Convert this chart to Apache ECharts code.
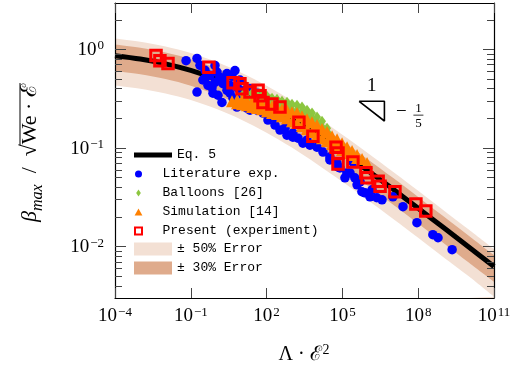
<!DOCTYPE html>
<html>
<head>
<meta charset="utf-8">
<script src="https://cdn.jsdelivr.net/npm/echarts@6/dist/echarts.min.js"></script>
<style>
  html, body { margin: 0; padding: 0; background: #fff; }
  #chart { width: 516px; height: 366px; }
</style>
</head>
<body>
<div id="chart"></div>
<script>
// ---- data ----
const xTicks = [1e-4, 1e-1, 1e2, 1e5, 1e8, 1e11];
const yTicks = [1e-2, 1e-1, 1];
const yMinorTicks = [0.004, 0.005, 0.006, 0.007, 0.008, 0.009,
  0.02, 0.03, 0.04, 0.05, 0.06, 0.07, 0.08, 0.09,
  0.2, 0.3, 0.4, 0.5, 0.6, 0.7, 0.8, 0.9, 2];

// Eq. 5 curve and error bands, sampled once per decade
const eqX = [1e-4, 1e-3, 1e-2, 1e-1, 1, 1e1, 1e2, 1e3, 1e4, 1e5, 1e6, 1e7, 1e8, 1e9, 1e10, 1e11];
const eqY = [0.863, 0.799, 0.715, 0.613, 0.5, 0.387, 0.285, 0.201, 0.137, 0.0909, 0.0593, 0.0383, 0.0245, 0.0156, 0.0099, 0.00627];
const band50Upper = [1.295, 1.199, 1.073, 0.920, 0.75, 0.581, 0.428, 0.302, 0.206, 0.136, 0.089, 0.0575, 0.0368, 0.0234, 0.0149, 0.0094];
const band30Upper = [1.122, 1.039, 0.930, 0.797, 0.65, 0.503, 0.371, 0.261, 0.178, 0.118, 0.0771, 0.0498, 0.0319, 0.0203, 0.0129, 0.0082];
const band30Lower = [0.604, 0.559, 0.501, 0.429, 0.35, 0.271, 0.200, 0.141, 0.096, 0.0636, 0.0415, 0.0268, 0.0172, 0.0109, 0.0069, 0.0044];
const band50Lower = [0.432, 0.400, 0.358, 0.307, 0.25, 0.194, 0.143, 0.101, 0.0685, 0.0455, 0.0297, 0.0192, 0.0123, 0.0078, 0.0050, 0.0031];

const literature = [
  [0.065, 0.77], [0.176, 0.81], [0.231, 0.69], [0.30, 0.49], [0.176, 0.37], [1.09, 0.59], [0.69, 0.41],
  [1.43, 0.52], [2.7, 0.57], [5.6, 0.61], [1.88, 0.45], [2.7, 0.385], [1.71, 0.29], [3.56, 0.36],
  [6.7, 0.26], [8.8, 0.49], [16.7, 0.254], [22, 0.40], [42, 0.36], [42, 0.242], [179, 0.206],
  [338, 0.152], [640, 0.135], [1100, 0.129], [1750, 0.126], [22, 0.305], [22, 0.242], [1100, 0.142],
  [2750, 0.112], [3960, 0.12], [9860, 0.102], [5200, 0.107], [1.7e4, 0.091], [3.2e4, 0.081],
  [3.2e4, 0.0757], [6.1e4, 0.0705], [8.0e4, 0.0628], [1.5e5, 0.0559], [2.0e5, 0.0559], [3.8e5, 0.0423],
  [5.9e5, 0.036], [7.8e5, 0.0351], [1.23e6, 0.032], [2.3e6, 0.0313], [3.7e6, 0.0298], [1.0e7, 0.032],
  [2.5e7, 0.0254], [8.9e7, 0.0175], [3.8e8, 0.0132], [6.1e8, 0.0123], [2.2e9, 0.0093], [6.7e4, 0.0643],
  [2.6e5, 0.0722], [0.574, 0.546], [0.906, 0.464], [3.56, 0.433], [0.365, 0.614], [11.6, 0.343],
  [72, 0.226], [113, 0.192], [215, 0.171], [533, 0.159], [1.26e5, 0.0498], [3.1e5, 0.0498],
  [5.0e5, 0.0454], [1.48e6, 0.0377], [0.365, 0.509], [0.479, 0.433], [0.755, 0.36], [1.19, 0.343],
  [2.25, 0.509], [4.27, 0.534], [7.4, 0.404], [4.7, 0.32], [13.9, 0.385], [0.906, 0.689]
];

const balloons = [
  [11.6, 0.35], [16.7, 0.36], [26.4, 0.36], [41.7, 0.351], [65.8, 0.343], [104, 0.335], [164, 0.32],
  [258, 0.313], [407, 0.298], [643, 0.291], [1014, 0.278], [1600, 0.272], [2520, 0.26], [3980, 0.242],
  [6280, 0.226], [9910, 0.206], [1.56e4, 0.187], [2.47e4, 0.159], [2.95e4, 0.138],
  [16.7, 0.313], [26.4, 0.313], [41.7, 0.305], [65.8, 0.298], [104, 0.291], [164, 0.278], [258, 0.272],
  [407, 0.26], [643, 0.254], [1014, 0.242], [1600, 0.236], [2520, 0.226], [3980, 0.21], [6280, 0.196],
  [9910, 0.179], [1.56e4, 0.163], [2.47e4, 0.142]
];

const simulation = [
  [4.27, 0.298], [6.73, 0.305], [6.73, 0.285], [10.6, 0.305], [10.6, 0.278], [16.7, 0.298], [16.7, 0.272],
  [26.4, 0.291], [26.4, 0.26], [41.7, 0.285], [41.7, 0.254], [65.8, 0.278], [65.8, 0.248],
  [104, 0.272], [104, 0.236], [164, 0.266], [164, 0.226], [258, 0.254], [258, 0.221],
  [407, 0.248], [407, 0.21], [643, 0.242], [643, 0.201], [1014, 0.231], [1014, 0.187],
  [1600, 0.226], [1600, 0.179], [2520, 0.21], [2520, 0.167], [3980, 0.196], [3980, 0.156],
  [6280, 0.183], [6280, 0.145], [9910, 0.171], [9910, 0.135], [1.56e4, 0.156], [1.56e4, 0.126],
  [2.47e4, 0.145], [2.47e4, 0.118], [3.89e4, 0.132], [3.89e4, 0.11], [6.14e4, 0.123], [6.14e4, 0.102],
  [9.68e4, 0.112], [9.68e4, 0.0955], [1.53e5, 0.102], [1.53e5, 0.089], [2.41e5, 0.0933], [2.41e5, 0.085],
  [3.8e5, 0.085], [3.8e5, 0.0793], [6.0e5, 0.0774], [9.46e5, 0.0705]
];

const present = [
  [4.2e-3, 0.87], [6.0e-3, 0.77], [1.25e-2, 0.72], [0.52, 0.66], [4.7, 0.46], [8.8, 0.45], [10.6, 0.40],
  [22, 0.37], [46, 0.385], [55, 0.34], [72, 0.29], [163, 0.28], [338, 0.26], [1900, 0.183], [6800, 0.132],
  [5.6e4, 0.102], [6.7e4, 0.089], [6.7e4, 0.069], [2.6e5, 0.072], [8.5e5, 0.056], [9.4e5, 0.050],
  [2.6e6, 0.046], [3.1e6, 0.041], [1.2e7, 0.036], [8.1e7, 0.027], [2.0e8, 0.023]
];

// slope triangle (one decade across, -1/5 decade down)
const slopeTriangle = [[4.6e5, 0.298], [4.6e6, 0.298], [4.6e6, 0.188], [4.6e5, 0.298]];

// ---- chart ----
const serif = '"Liberation Serif", "DejaVu Serif", serif';
const mono = '"Liberation Mono", "DejaVu Sans Mono", monospace';
const lightBand = '#f3e0d4';
const darkBand = '#dfab8c';

const pairs = (ys) => eqX.map((x, i) => [x, ys[i]]);

function powLabel(v) {
  const e = Math.round(Math.log10(v));
  return '{b|10}{s|' + (e < 0 ? '\u2212' + (-e) : e) + '}';
}
const labelRich = {
  b: { fontFamily: serif, fontSize: 19, color: '#000', verticalAlign: 'bottom' },
  s: { fontFamily: serif, fontSize: 13, color: '#000', verticalAlign: 'bottom', padding: [0, 0, 7, 1] }
};

const xRange = { type: 'log', logBase: 10, min: 1e-4, max: 1e11 };
const yRange = { type: 'log', logBase: 10, min: 0.00301, max: 2.96 };
const frameLine = { show: true, onZero: false, lineStyle: { color: '#000', width: 1.2 } };

function xAxisDef(position, showLabels) {
  return Object.assign({}, xRange, {
    position: position,
    z: 10,
    axisLine: frameLine,
    axisTick: { inside: true, length: 10, customValues: xTicks, lineStyle: { color: '#444', width: 1 } },
    axisLabel: showLabels
      ? { customValues: xTicks, formatter: powLabel, rich: labelRich, margin: 8 }
      : { show: false },
    minorTick: { show: false },
    splitLine: { show: false }
  });
}
function yAxisDef(position, ticks, len, showLabels, showLine) {
  return Object.assign({}, yRange, {
    position: position,
    z: 10,
    axisLine: showLine ? frameLine : { show: false },
    axisTick: { inside: true, length: len, customValues: ticks, lineStyle: { color: '#444', width: 1 } },
    axisLabel: showLabels
      ? { customValues: ticks, formatter: powLabel, rich: labelRich, margin: 11 }
      : { show: false },
    minorTick: { show: false },
    splitLine: { show: false }
  });
}

function bandSeries(name, ys, color, z) {
  return {
    name: name, type: 'line', data: pairs(ys), smooth: 0.3, symbol: 'none', silent: true, z: z,
    itemStyle: { color: color },
    lineStyle: { width: 0, color: color },
    areaStyle: { color: color, opacity: 1, origin: 'start' }
  };
}

const chart = echarts.init(document.getElementById('chart'));

const legendText = { fontFamily: mono, fontSize: 13, color: '#000', lineHeight: 19 };
const legendBase = { orient: 'vertical', left: 134, padding: 0, itemGap: 0, itemWidth: 38, z: 12,
  selectedMode: false, textStyle: legendText };

chart.setOption({
  animation: false,
  backgroundColor: '#fff',
  grid: { left: 115, right: 22, top: 3, bottom: 68, containLabel: false, outerBoundsMode: 'none' },
  xAxis: [xAxisDef('bottom', true), xAxisDef('top', false)],
  yAxis: [
    yAxisDef('left', yTicks, 11, true, true),
    yAxisDef('left', yMinorTicks, 7, false, false),
    yAxisDef('right', yTicks, 11, false, true),
    yAxisDef('right', yMinorTicks, 7, false, false)
  ],
  legend: [
    Object.assign({}, legendBase, { top: 145.5, itemHeight: 5,
      data: [{ name: 'Eq. 5', icon: 'rect' }] }),
    Object.assign({}, legendBase, { top: 164.5, itemHeight: 7,
      data: [
        { name: 'Literature exp.', icon: 'circle' },
        { name: 'Balloons [26]', icon: 'path://M3,0L6,4.5L3,9L0,4.5Z' },
        { name: 'Simulation [14]', icon: 'path://M5,0L10,9L0,9Z' },
        { name: 'Present (experiment)', icon: 'path://M0,0L10,0L10,10L0,10Z' }
      ] }),
    Object.assign({}, legendBase, { top: 239.5, itemHeight: 13,
      data: [{ name: '\u00b1 50% Error', icon: 'rect' }, { name: '\u00b1 30% Error', icon: 'rect' }] })
  ],
  series: [
    bandSeries('\u00b1 50% Error', band50Upper, lightBand, 1),
    bandSeries('\u00b1 30% Error', band30Upper, darkBand, 1.1),
    bandSeries('band30lower', band30Lower, lightBand, 1.2),
    bandSeries('band50lower', band50Lower, '#ffffff', 1.3),
    {
      name: 'Eq. 5', type: 'line', data: pairs(eqY), smooth: 0.3, symbol: 'none', z: 2,
      itemStyle: { color: '#000' }, lineStyle: { color: '#000', width: 5 }
    },
    {
      name: 'Literature exp.', type: 'scatter', data: literature, symbol: 'circle', symbolSize: 9.5, z: 3,
      itemStyle: { color: '#0000ff', opacity: 1 }
    },
    {
      name: 'Balloons [26]', type: 'scatter', data: balloons, symbol: 'diamond', symbolSize: [8, 11], z: 3.1,
      itemStyle: { color: '#8cc63f', opacity: 1 }
    },
    {
      name: 'Simulation [14]', type: 'scatter', data: simulation, symbol: 'triangle', symbolSize: 12, z: 3.2,
      itemStyle: { color: '#ff8000', opacity: 1 }
    },
    {
      name: 'Present (experiment)', type: 'scatter', data: present, symbol: 'rect', symbolSize: 10.5, z: 3.3,
      itemStyle: { color: 'rgba(255,255,255,0)', borderColor: '#ff0000', borderWidth: 3, opacity: 1 }
    },
    {
      name: 'slope', type: 'line', data: slopeTriangle, symbol: 'none', silent: true, z: 3.4,
      lineStyle: { color: '#000', width: 1.6 }, itemStyle: { color: '#000' }
    }
  ]
});

// ---- axis titles and slope labels ----
const measure = document.createElement('canvas').getContext('2d');
function tw(str, font) { measure.font = font; return measure.measureText(str).width; }

const fBig = '22px ' + serif;
const radText = 'We \u00b7 \u2130';
const wBeta = tw('\u03b2', 'italic ' + fBig);
const wMax = tw('max', 'italic 16px ' + serif);
const wSlash = tw('  /  ', fBig);
const wRoot = tw('\u221a', fBig);
const wRad = tw(radText, fBig);
const wAll = wBeta + wMax + wSlash + wRoot + wRad;
const radStart = -wAll / 2 + wBeta + wMax + wSlash + wRoot * 0.92;

const toPx = (p) => chart.convertToPixel({ xAxisIndex: 0, yAxisIndex: 0 }, p);
const tl = toPx(slopeTriangle[0]);
const tr = toPx(slopeTriangle[1]);
const br = toPx(slopeTriangle[2]);
const midY = (tr[1] + br[1]) / 2;

chart.setOption({
  graphic: [
    {
      type: 'group', x: 31, y: 153, rotation: Math.PI / 2,
      children: [
        {
          type: 'text', x: -wAll / 2, y: 0,
          style: {
            text: '{g|\u03b2}{m|max}{n|  /  \u221a' + radText + '}',
            align: 'left', verticalAlign: 'middle',
            rich: {
              g: { fontFamily: serif, fontStyle: 'italic', fontSize: 22, lineHeight: 23, fill: '#000', verticalAlign: 'top' },
              m: { fontFamily: serif, fontStyle: 'italic', fontSize: 16, lineHeight: 15, fill: '#000', verticalAlign: 'top', padding: [10, 0, 0, 0] },
              n: { fontFamily: serif, fontSize: 22, lineHeight: 23, fill: '#000', verticalAlign: 'top' }
            }
          }
        },
        {
          type: 'line', shape: { x1: radStart, y1: -11, x2: wAll / 2 + 1, y2: -11 },
          style: { stroke: '#000', lineWidth: 1 }
        }
      ]
    },
    {
      type: 'text', x: 304, y: 354,
      style: {
        text: '{n|\u039b \u00b7 \u2130}{s|2}', align: 'center', verticalAlign: 'middle',
        rich: {
          n: { fontFamily: serif, fontSize: 20, fill: '#000', verticalAlign: 'bottom' },
          s: { fontFamily: serif, fontSize: 14, fill: '#000', verticalAlign: 'bottom', padding: [0, 0, 8, 1] }
        }
      }
    },
    {
      type: 'text', x: (tl[0] + tr[0]) / 2, y: tr[1] - 15,
      style: { text: '1', font: '19px ' + serif, fill: '#000', align: 'center', verticalAlign: 'middle' }
    },
    {
      type: 'text', x: tr[0] + 17, y: midY + 1,
      style: { text: '\u2212', font: '19px ' + serif, fill: '#000', align: 'center', verticalAlign: 'middle' }
    },
    {
      type: 'text', x: tr[0] + 34, y: midY - 3,
      style: { text: '1', font: '13px ' + serif, fill: '#000', align: 'center', verticalAlign: 'middle' }
    },
    {
      type: 'line', shape: { x1: tr[0] + 29, y1: midY + 4, x2: tr[0] + 39, y2: midY + 4 },
      style: { stroke: '#000', lineWidth: 0.8 }
    },
    {
      type: 'text', x: tr[0] + 34, y: midY + 12,
      style: { text: '5', font: '13px ' + serif, fill: '#000', align: 'center', verticalAlign: 'middle' }
    }
  ]
});
</script>
</body>
</html>
